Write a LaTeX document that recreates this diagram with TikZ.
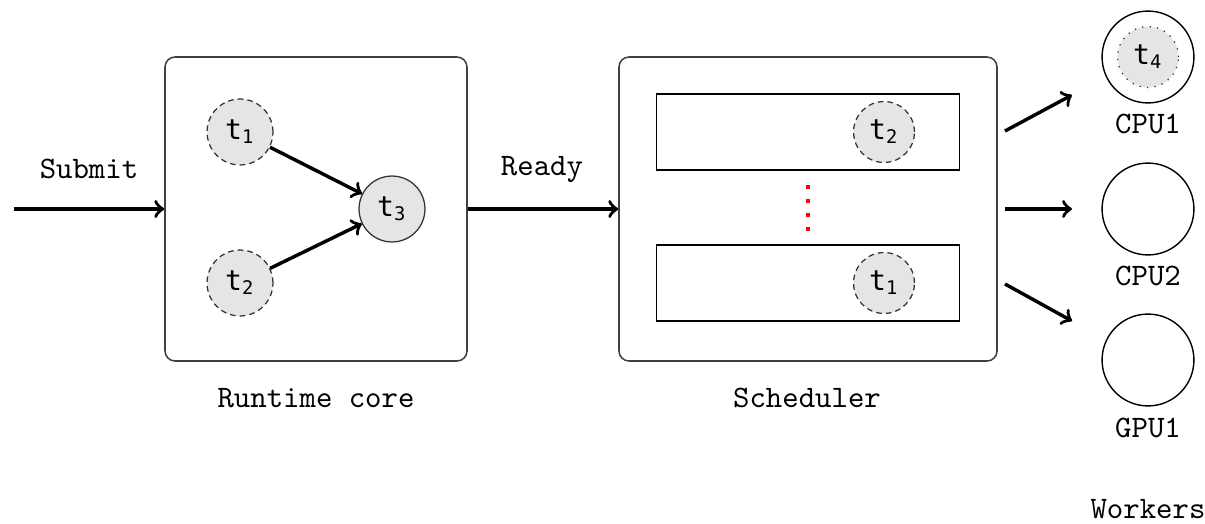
\documentclass[tikz,border=0pt]{standalone}
\usepackage{fontspec}
\newfontfamily\taskfont{DejaVu Sans Mono}
\usetikzlibrary{fit}
\tikzset{
  stage/.style={draw=black!75, line width=0.5pt, rounded corners=3.2pt, inner sep=0pt},
  queue/.style={draw, line width=0.45pt, inner sep=0pt, minimum width=97pt, minimum height=24.3pt},
  task/.style={circle, draw=black!80, fill=gray!20, line width=0.4pt, dash pattern=on 1.8pt off 1.3pt,
               inner sep=0pt, minimum size=21.1pt, font=\taskfont\small},
  qtask/.style={task, minimum size=19.5pt},
  ready/.style={task, solid},
  worker/.style={circle, draw, line width=0.45pt, inner sep=0pt, minimum size=29.4pt},
  flow/.style={->, line width=1.1pt},
  lbl/.style={font=\ttfamily, anchor=base, inner sep=0pt},
  sub/.style={rectangle, fill=red, inner sep=0pt, minimum size=1.1pt}
}
\newcommand{\tk}[1]{t\textsubscript{#1}}
\begin{document}
\begin{tikzpicture}[x=0.32pt, y=-0.32pt]
  \useasboundingbox (0,0) rectangle (1205,523);

  % runtime core with its small task graph
  \node[stage, fit={(165,57) (467,361)}] (core) {};
  \node[task] (t1) at (240,132) {\tk{1}};
  \node[task] (t2) at (240,283) {\tk{2}};
  \node[ready] (t3) at (392,209) {\tk{3}};
  \draw[flow] (t1) -- (t3);
  \draw[flow] (t2) -- (t3);
  \node[lbl] (corelbl) at (316,407) {Runtime core};

  % submission into the core
  \coordinate (src) at (14,209);
  \draw[flow] (src) -- (src -| core.west);
  \node[lbl] (submit) at (89,178) {Submit};

  % scheduler with its queues
  \node[stage, fit={(619,57) (997,361)}] (sched) {};
  \node[queue] (q1) at (808,132) {};
  \node[queue] (q2) at (808,283) {};
  \node[qtask] (qt2) at (884,132) {\tk{2}};
  \node[qtask] (qt1) at (884,283) {\tk{1}};
  \foreach \yy [count=\i] in {187,201,215,229}
    \node[sub] (dot\i) at (808,\yy) {};
  \node[lbl] (schedlbl) at (807,407) {Scheduler};

  \draw[flow] (core.east) -- (sched.west);
  \node[lbl] (readylbl) at (542,175) {Ready};

  % workers
  \node[worker] (cpu1) at (1148,57) {};
  \node[task, dotted, minimum size=19.5pt] (t4) at (1148,57) {\tk{4}};
  \node[worker] (cpu2) at (1148,209) {};
  \node[worker] (gpu1) at (1148,360) {};
  \node[lbl] (cpu1lbl) at (1148,133) {CPU1};
  \node[lbl] (cpu2lbl) at (1148,285) {CPU2};
  \node[lbl] (gpu1lbl) at (1148,437) {GPU1};
  \node[lbl] (workers) at (1148,518) {Workers};

  % dispatch from the scheduler to the workers
  \coordinate (d1s) at (1005,131); \coordinate (d1e) at (1072,95);
  \coordinate (d2s) at (1005,209); \coordinate (d2e) at (1072,209);
  \coordinate (d3s) at (1005,284); \coordinate (d3e) at (1072,321);
  \draw[flow] (d1s) -- (d1e);
  \draw[flow] (d2s) -- (d2e);
  \draw[flow] (d3s) -- (d3e);
\end{tikzpicture}
\end{document}
